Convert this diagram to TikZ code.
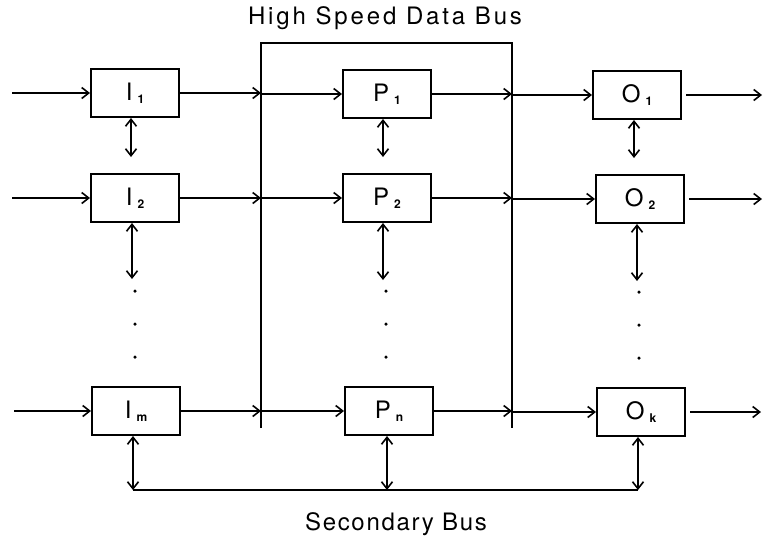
\documentclass[tikz,border=0pt]{standalone}
\usepackage{fontspec}
\setmainfont{TeX Gyre Heros}
\usetikzlibrary{arrows.meta}
\tikzset{
  x=1pt, y=-1pt,
  unit/.style={draw, line width=2pt, minimum width=88pt, minimum height=48pt, inner sep=0pt,
    font=\fontsize{24}{24}\selectfont},
  flow/.style={line width=1.6pt, -{Straight Barb[length=7pt,width=11pt,line width=1.6pt]}},
  both/.style={line width=1.6pt, {Straight Barb[length=7pt,width=11pt,line width=1.6pt]}-{Straight Barb[length=7pt,width=11pt,line width=1.6pt]}},
  bus/.style={line width=1.6pt},
  caption/.style={inner sep=0pt, font=\fontsize{24}{24}\selectfont},
  dot/.style={circle, fill, inner sep=0pt, minimum size=3.5pt}
}
\newcommand{\sub}[1]{\hspace{5pt}\raisebox{-3pt}{\fontsize{12}{12}\selectfont\bfseries #1}}
\begin{document}
\begin{tikzpicture}
\useasboundingbox (0,0) rectangle (763,542);

% captions
\node[caption] (hsdb) at (385,18) {\addfontfeature{LetterSpace=12}High Speed Data Bus};
\node[caption] (sbus) at (396,524) {\addfontfeature{LetterSpace=7}Secondary Bus};

% boxes
\node[unit] (I1) at (135,93) {I\sub{1}};
\node[unit] (I2) at (135,198) {I\sub{2}};
\node[unit] (Im) at (136,411) {I\sub{m}};
\node[unit] (P1) at (387,94) {P\sub{1}};
\node[unit] (P2) at (387,198) {P\sub{2}};
\node[unit] (Pn) at (389,411) {P\sub{n}};
\node[unit] (O1) at (637,95) {O\sub{1}};
\node[unit] (O2) at (640,199) {O\sub{2}};
\node[unit] (Ok) at (641,412) {O\sub{k}};

% bus frame
\coordinate (bl) at (261,428);
\coordinate (tl) at (261,43);
\coordinate (tr) at (512,43);
\coordinate (br) at (512,428);
\draw[bus] (bl) -- (tl) -- (tr) -- (br);

% inputs
\coordinate (in1) at (12,93);
\coordinate (in2) at (12,198);
\coordinate (inm) at (14,411);
\draw[flow] (in1) -- (I1.west);
\draw[flow] (in2) -- (I2.west);
\draw[flow] (inm) -- (Im.west);

% I to bus to P
\draw[flow] (I1.east) -- (I1.east -| tl);
\draw[flow] (I2.east) -- (I2.east -| tl);
\draw[flow] (Im.east) -- (Im.east -| tl);
\draw[flow] (P1.west -| tl) -- (P1.west);
\draw[flow] (P2.west -| tl) -- (P2.west);
\draw[flow] (Pn.west -| tl) -- (Pn.west);

% P to bus to O
\draw[flow] (P1.east) -- (P1.east -| tr);
\draw[flow] (P2.east) -- (P2.east -| tr);
\draw[flow] (Pn.east) -- (Pn.east -| tr);
\draw[flow] (O1.west -| tr) -- (O1.west);
\draw[flow] (O2.west -| tr) -- (O2.west);
\draw[flow] (Ok.west -| tr) -- (Ok.west);

% outputs
\coordinate (out1) at (762,95);
\coordinate (out2) at (762,199);
\coordinate (outk) at (761,412);
\draw[flow] ([xshift=4pt]O1.east) -- (out1);
\draw[flow] ([xshift=4pt]O2.east) -- (out2);
\draw[flow] ([xshift=4pt]Ok.east) -- (outk);

% vertical double arrows
\draw[both] (I1.south -| 131,0) -- (131,157);
\draw[both] (I2.south -| 132,0) -- (132,279);
\draw[both] (P1.south -| 383,0) -- (383,157);
\draw[both] (P2.south -| 383,0) -- (383,280);
\draw[both] (O1.south -| 634,0) -- (634,158);
\draw[both] (O2.south -| 637,0) -- (637,281);

% dots
\foreach \y [count=\i] in {291,324,357} {
  \node[dot] (di\i) at (135,\y) {};
  \node[dot] (dp\i) at (386,\y) {};
  \node[dot] (do\i) at (639,\y+1) {};
}

% secondary bus
\coordinate (sbl) at (133,490);
\coordinate (sbr) at (638,490);
\draw[both] (Im.south -| sbl) -- (sbl);
\draw[both] (Pn.south -| 387,0) -- (387,490);
\draw[both] (Ok.south -| sbr) -- (sbr);
\draw[bus] (sbl) -- (sbr);
\end{tikzpicture}
\end{document}
